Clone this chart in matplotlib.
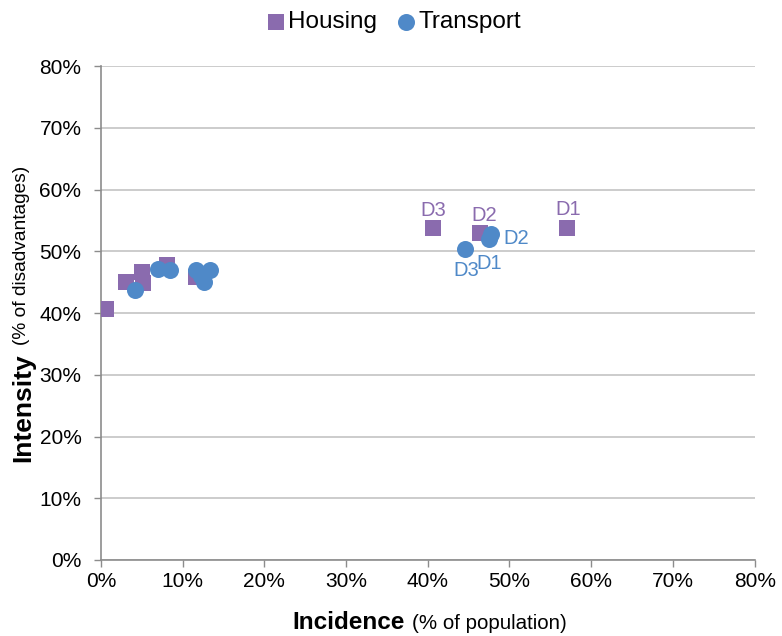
import matplotlib.pyplot as plt
from matplotlib.ticker import PercentFormatter

plt.rcParams['font.family'] = ['Liberation Sans', 'DejaVu Sans']

# Données (en %)
housing_x = [0.6, 3.1, 5.0, 5.1, 8.1, 11.7, 40.7, 46.4, 57.0]
housing_y = [40.6, 45.1, 46.7, 44.9, 47.8, 45.9, 53.8, 53.0, 53.8]
transport_x = [4.2, 7.0, 8.4, 11.7, 13.3, 12.6, 12.2, 44.6, 47.5, 47.7]
transport_y = [43.7, 47.1, 47.0, 47.0, 47.0, 45.0, 46.0, 50.4, 52.0, 52.8]

# étiquettes des déciles
housing_labels = {"D3": (40.7, 53.8), "D2": (46.4, 53.0), "D1": (57.0, 53.8)}
transport_labels = {"D3": (44.6, 50.4), "D1": (47.5, 52.0), "D2": (47.7, 52.8)}

ticks = [0, 10, 20, 30, 40, 50, 60, 70, 80]

purple = "#8A6BAE"
blue = "#4F89C8"

fig = plt.figure(figsize=(7.82, 6.36), dpi=100)
ax = fig.add_axes([0.129, 0.1195, 0.836, 0.7765])

ax.scatter(housing_x, housing_y, marker="s", s=130, color=purple,
           label="Housing", zorder=3, linewidths=0)
ax.scatter(transport_x, transport_y, marker="o", s=150, color=blue,
           label="Transport", zorder=4, linewidths=0)

# Annotations
offsets_h = {"D3": (0, 6), "D2": (3, 5.5), "D1": (1, 6.5)}
for lab, (x, y) in housing_labels.items():
    ax.annotate(lab, (x, y), xytext=offsets_h[lab], textcoords="offset points",
                ha="center", va="bottom", color=purple, fontsize=14.5, zorder=5)
offsets_t = {"D3": (1, -9), "D1": (0, -11), "D2": (9, -3)}
for lab, (x, y) in transport_labels.items():
    ha = "left" if lab == "D2" else "center"
    va = "center" if lab == "D2" else "top"
    ax.annotate(lab, (x, y), xytext=offsets_t[lab], textcoords="offset points",
                ha=ha, va=va, color=blue, fontsize=14.5, zorder=5)

ax.set_xlim(0, 80)
ax.set_ylim(0, 80)
ax.set_xticks(ticks)
ax.set_yticks(ticks)
ax.xaxis.set_major_formatter(PercentFormatter(decimals=0))
ax.yaxis.set_major_formatter(PercentFormatter(decimals=0))
ax.tick_params(labelsize=15, color="#8C8C8C", length=5, width=1)
ax.tick_params(axis="y", pad=9)
ax.yaxis.grid(True, color="#C4C4C4", linewidth=1.2)
ax.set_axisbelow(True)
for side in ["top", "right"]:
    ax.spines[side].set_visible(False)
for side in ["left", "bottom"]:
    ax.spines[side].set_color("#8C8C8C")
    ax.spines[side].set_linewidth(1.2)

# Titres des axes (partie grasse + partie normale)
fig.text(0.518, 0.0105, "Incidence", fontsize=17.5, fontweight="bold", ha="right", va="baseline")
fig.text(0.527, 0.0105, "(% of population)", fontsize=14.8, ha="left", va="baseline")
fig.text(0.014, 0.2736, "Intensity", fontsize=19, fontweight="bold", rotation=90,
         ha="left", va="bottom")
fig.text(0.016, 0.4575, "(% of disadvantages)", fontsize=13.8, rotation=90,
         ha="left", va="bottom")

fig.legend(loc="upper center", bbox_to_anchor=(0.500, 1.005), ncol=2, frameon=False,
           fontsize=17.5, handletextpad=-0.1, handlelength=1.2, columnspacing=0.62,
           markerscale=1.0, borderaxespad=0.2)

plt.savefig("out.png", dpi=100)
